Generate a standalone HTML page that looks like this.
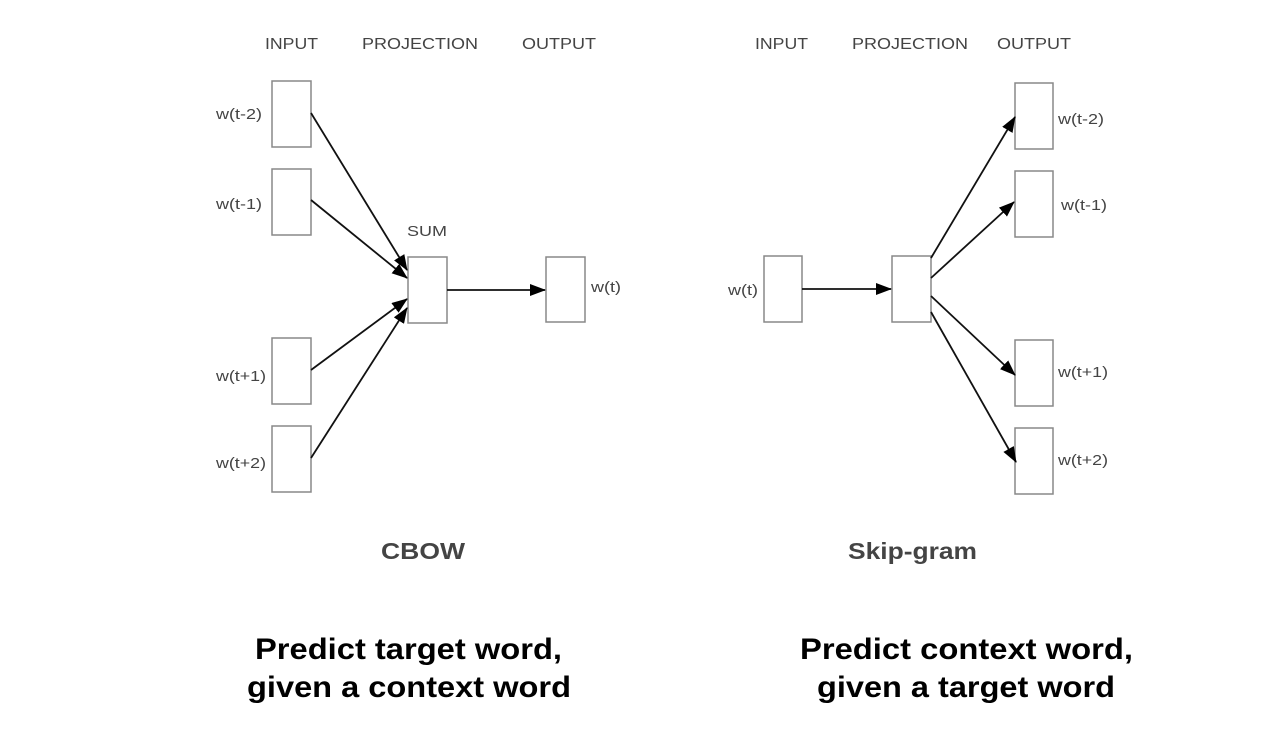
<!DOCTYPE html>
<html><head><style>
html,body{margin:0;padding:0;background:#fff;width:1280px;height:730px;overflow:hidden}
svg{display:block}
.h{font-family:"Liberation Sans",sans-serif;font-size:16px;fill:#444}
.l{font-family:"Liberation Sans",sans-serif;font-size:15px;fill:#444}
.t{font-family:"Liberation Sans",sans-serif;font-size:23px;font-weight:bold;fill:#444}
.b{font-family:"Liberation Sans",sans-serif;font-size:30px;font-weight:bold;fill:#000}
rect{fill:#fff;stroke:#888;stroke-width:1.5}
line{stroke:#111;stroke-width:1.8}
</style></head><body>
<svg width="1280" height="730" viewBox="0 0 1280 730">
<defs><marker id="a" markerWidth="16" markerHeight="12" refX="15" refY="6" orient="auto" markerUnits="userSpaceOnUse"><path d="M0,0 L16,6 L0,12 z" fill="#000"/></marker></defs>
<text class="h" x="265" y="49" textLength="53" lengthAdjust="spacingAndGlyphs">INPUT</text>
<text class="h" x="362" y="49" textLength="116" lengthAdjust="spacingAndGlyphs">PROJECTION</text>
<text class="h" x="522" y="49" textLength="74" lengthAdjust="spacingAndGlyphs">OUTPUT</text>
<rect x="272" y="81" width="39" height="66"/>
<rect x="272" y="169" width="39" height="66"/>
<rect x="272" y="338" width="39" height="66"/>
<rect x="272" y="426" width="39" height="66"/>
<rect x="408" y="257" width="39" height="66"/>
<rect x="546" y="257" width="39" height="65"/>
<text class="l" x="216" y="119" textLength="46" lengthAdjust="spacingAndGlyphs">w(t-2)</text>
<text class="l" x="216" y="209" textLength="46" lengthAdjust="spacingAndGlyphs">w(t-1)</text>
<text class="l" x="216" y="381" textLength="50" lengthAdjust="spacingAndGlyphs">w(t+1)</text>
<text class="l" x="216" y="468" textLength="50" lengthAdjust="spacingAndGlyphs">w(t+2)</text>
<text class="l" x="407" y="236" textLength="40" lengthAdjust="spacingAndGlyphs">SUM</text>
<text class="l" x="591" y="292" textLength="30" lengthAdjust="spacingAndGlyphs">w(t)</text>
<line x1="311" y1="113" x2="407" y2="270" marker-end="url(#a)"/>
<line x1="311" y1="200" x2="407" y2="278" marker-end="url(#a)"/>
<line x1="311" y1="370" x2="407" y2="299" marker-end="url(#a)"/>
<line x1="311" y1="458" x2="407" y2="308" marker-end="url(#a)"/>
<line x1="447" y1="290" x2="545" y2="290" marker-end="url(#a)"/>
<text class="t" x="381" y="559" textLength="84" lengthAdjust="spacingAndGlyphs">CBOW</text>

<text class="h" x="755" y="49" textLength="53" lengthAdjust="spacingAndGlyphs">INPUT</text>
<text class="h" x="852" y="49" textLength="116" lengthAdjust="spacingAndGlyphs">PROJECTION</text>
<text class="h" x="997" y="49" textLength="74" lengthAdjust="spacingAndGlyphs">OUTPUT</text>
<rect x="764" y="256" width="38" height="66"/>
<rect x="892" y="256" width="39" height="66"/>
<rect x="1015" y="83" width="38" height="66"/>
<rect x="1015" y="171" width="38" height="66"/>
<rect x="1015" y="340" width="38" height="66"/>
<rect x="1015" y="428" width="38" height="66"/>
<text class="l" x="728" y="295" textLength="30" lengthAdjust="spacingAndGlyphs">w(t)</text>
<text class="l" x="1058" y="124" textLength="46" lengthAdjust="spacingAndGlyphs">w(t-2)</text>
<text class="l" x="1061" y="210" textLength="46" lengthAdjust="spacingAndGlyphs">w(t-1)</text>
<text class="l" x="1058" y="377" textLength="50" lengthAdjust="spacingAndGlyphs">w(t+1)</text>
<text class="l" x="1058" y="465" textLength="50" lengthAdjust="spacingAndGlyphs">w(t+2)</text>
<line x1="802" y1="289" x2="891" y2="289" marker-end="url(#a)"/>
<line x1="931" y1="258" x2="1015" y2="117" marker-end="url(#a)"/>
<line x1="931" y1="278" x2="1014" y2="202" marker-end="url(#a)"/>
<line x1="931" y1="296" x2="1015" y2="375" marker-end="url(#a)"/>
<line x1="931" y1="312" x2="1016" y2="462" marker-end="url(#a)"/>
<text class="t" x="848" y="559" textLength="129" lengthAdjust="spacingAndGlyphs">Skip-gram</text>

<text class="b" x="255" y="659" textLength="307" lengthAdjust="spacingAndGlyphs">Predict target word,</text>
<text class="b" x="247" y="697" textLength="324" lengthAdjust="spacingAndGlyphs">given a context word</text>
<text class="b" x="800" y="659" textLength="333" lengthAdjust="spacingAndGlyphs">Predict context word,</text>
<text class="b" x="817" y="697" textLength="298" lengthAdjust="spacingAndGlyphs">given a target word</text>
</svg>
</body></html>
